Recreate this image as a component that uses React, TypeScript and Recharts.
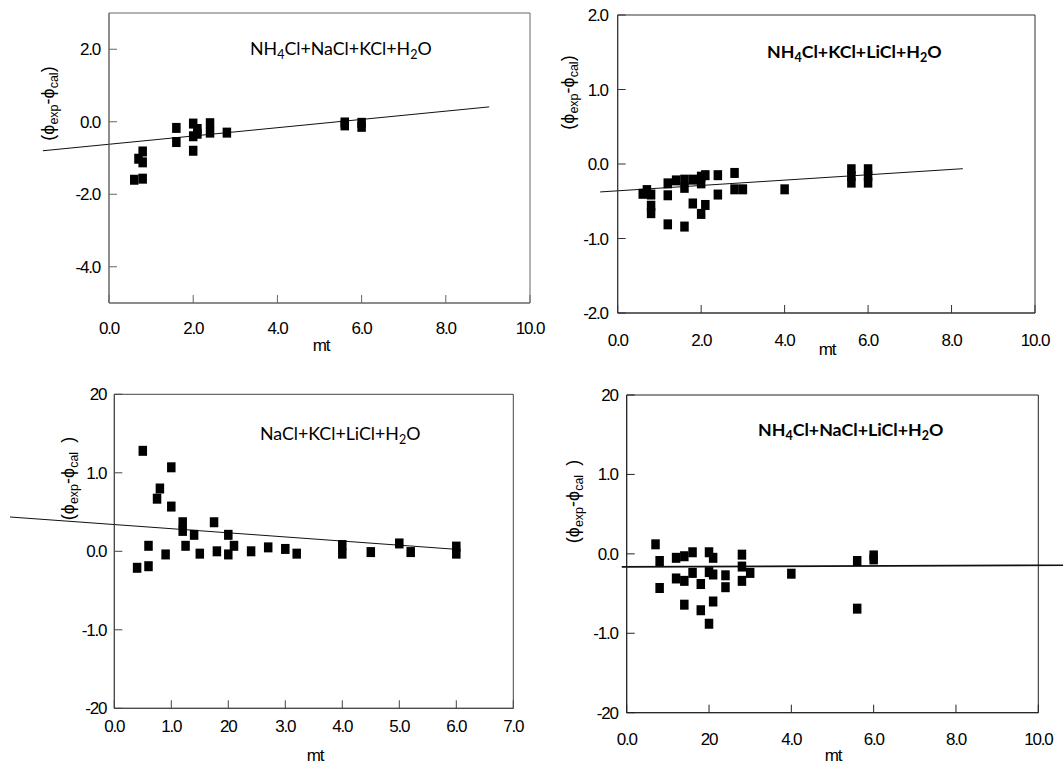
import React from 'react';
import { ScatterChart, Scatter, XAxis, YAxis, ReferenceLine, ReferenceArea } from 'recharts';

// ---- Panel 1: NH4Cl+NaCl+KCl+H2O ----
const mt1 = [0.6, 0.8, 0.7, 0.8, 0.8, 1.6, 1.6, 2.0, 2.0, 2.0, 2.1, 2.1, 2.4, 2.4, 2.8, 5.6, 5.6, 6.0, 6.0];
const dev1 = [-1.6, -1.57, -1.02, -0.82, -1.12, -0.17, -0.56, -0.05, -0.4, -0.8, -0.2, -0.33, -0.04, -0.3, -0.3, -0.02, -0.1, -0.03, -0.14];
const fit1 = [{ x: -1.57, y: -0.8 }, { x: 9.03, y: 0.41 }];
const xTicks1 = [0, 2, 4, 6, 8, 10];
const xLabels1 = ['0.0', '2.0', '4.0', '6.0', '8.0', '10.0'];
const yTicks1 = [-4, -2, 0, 2];
const yLabels1 = ['-4.0', '-2.0', '0.0', '2.0'];

// ---- Panel 2: NH4Cl+KCl+LiCl+H2O ----
const mt2 = [0.6, 0.7, 0.8, 0.8, 0.8, 1.2, 1.2, 1.2, 1.4, 1.6, 1.6, 1.6, 1.8, 1.8, 2.0, 2.0, 2.0, 2.1, 2.1, 2.4, 2.4, 2.8, 2.8, 3.0, 4.0, 5.6, 5.6, 5.6, 6.0, 6.0, 6.0];
const dev2 = [-0.4, -0.35, -0.41, -0.56, -0.66, -0.26, -0.42, -0.81, -0.22, -0.21, -0.32, -0.84, -0.21, -0.53, -0.17, -0.26, -0.67, -0.15, -0.55, -0.15, -0.41, -0.12, -0.34, -0.34, -0.34, -0.07, -0.16, -0.25, -0.07, -0.16, -0.25];
const fit2 = [{ x: -0.42, y: -0.375 }, { x: 8.27, y: -0.063 }];
const xTicks2 = [0, 2, 4, 6, 8, 10];
const xLabels2 = ['0.0', '2.0', '4.0', '6.0', '8.0', '10.0'];
const yTicks2 = [-2, -1, 0, 1, 2];
const yLabels2 = ['-2.0', '-1.0', '0.0', '1.0', '2.0'];

// ---- Panel 3: NaCl+KCl+LiCl+H2O ----
const mt3 = [0.4, 0.5, 0.6, 0.6, 0.75, 0.8, 0.9, 1.0, 1.0, 1.2, 1.2, 1.25, 1.4, 1.5, 1.75, 1.8, 2.0, 2.0, 2.1, 2.4, 2.7, 3.0, 3.2, 4.0, 4.0, 4.5, 5.0, 5.2, 6.0, 6.0];
const dev3 = [-0.21, 1.28, 0.07, -0.19, 0.67, 0.8, -0.04, 1.07, 0.57, 0.37, 0.26, 0.07, 0.21, -0.03, 0.37, 0.0, 0.21, -0.04, 0.07, 0.0, 0.05, 0.03, -0.03, 0.08, -0.03, -0.01, 0.1, -0.01, 0.06, -0.03];
const fit3 = [{ x: -1.83, y: 0.437 }, { x: 6.0, y: 0.025 }];
const xTicks3 = [0, 1, 2, 3, 4, 5, 6, 7];
const xLabels3 = ['0.0', '1.0', '20', '3.0', '4.0', '5.0', '6.0', '7.0'];
const yTicks3 = [-2, -1, 0, 1, 2];
const yLabels3 = ['-20', '-1.0', '0.0', '1.0', '20'];

// ---- Panel 4: NH4Cl+NaCl+LiCl+H2O ----
const mt4 = [0.7, 0.8, 0.8, 1.2, 1.2, 1.4, 1.4, 1.4, 1.6, 1.6, 1.8, 1.8, 2.0, 2.0, 2.0, 2.1, 2.1, 2.1, 2.4, 2.4, 2.8, 2.8, 2.8, 3.0, 4.0, 5.6, 5.6, 6.0, 6.0];
const dev4 = [0.12, -0.09, -0.43, -0.05, -0.31, -0.03, -0.34, -0.64, 0.02, -0.24, -0.38, -0.71, 0.02, -0.23, -0.88, -0.05, -0.26, -0.6, -0.27, -0.42, -0.01, -0.16, -0.34, -0.24, -0.25, -0.09, -0.69, -0.02, -0.07];
const fit4 = [{ x: -0.12, y: -0.164 }, { x: 10.6, y: -0.143 }];
const xTicks4 = [0, 2, 4, 6, 8, 10];
const xLabels4 = ['0.0', '20', '4.0', '6.0', '8.0', '10.0'];
const yTicks4 = [-2, -1, 0, 1, 2];
const yLabels4 = ['-20', '-1.0', '0.0', '1.0', '20'];

// Titles: [text, isSubscript]
const title1: [string, boolean][] = [['NH', false], ['4', true], ['Cl+NaCl+KCl+H', false], ['2', true], ['O', false]];
const title2: [string, boolean][] = [['NH', false], ['4', true], ['Cl+KCl+LiCl+H', false], ['2', true], ['O', false]];
const title3: [string, boolean][] = [['NaCl+KCl+LiCl+H', false], ['2', true], ['O', false]];
const title4: [string, boolean][] = [['NH', false], ['4', true], ['Cl+NaCl+LiCl+H', false], ['2', true], ['O', false]];

const zip = (xs: number[], ys: number[]) => xs.map((x, i) => ({ x, y: ys[i] }));

const TICK_FONT = { fontFamily: 'Liberation Sans, Arial, sans-serif', fontSize: 17, fill: '#000', letterSpacing: -1.2 };
const AXIS = '#555';

const Square = (p: any) => (
  <rect x={p.cx - 4.25} y={p.cy - 5} width={8.5} height={10} fill="#000" />
);

type PanelCfg = {
  left: number; top: number; width: number; height: number;
  plot: { l: number; t: number; r: number; b: number };
  xDomain: [number, number]; yDomain: [number, number];
  xTicks: number[]; xLabels: string[]; yTicks: number[]; yLabels: string[];
  mt: number[]; dev: number[]; fit: { x: number; y: number }[];
  fitWidth: number; xGap: number; yGap: number; axisColor: string;
};

function Panel({ c }: { c: PanelCfg }) {
  const XH = 40;
  const yw = c.plot.l - c.left;
  const margin = {
    top: c.plot.t - c.top,
    left: 0,
    right: c.left + c.width - c.plot.r,
    bottom: c.top + c.height - c.plot.b - XH,
  };
  const data = zip(c.mt, c.dev);
  return (
    <div style={{ position: 'absolute', left: c.left, top: c.top, width: c.width, height: c.height }}>
      <ScatterChart width={c.width} height={c.height} margin={margin}>
        <XAxis
          type="number" dataKey="x" domain={c.xDomain} ticks={c.xTicks} interval={0}
          tickFormatter={(v: number) => c.xLabels[c.xTicks.indexOf(v)] ?? ''}
          height={XH} tickSize={-8} tickMargin={c.xGap + 8}
          axisLine={{ stroke: c.axisColor }} tickLine={{ stroke: c.axisColor }} tick={TICK_FONT}
        />
        <YAxis
          type="number" dataKey="y" domain={c.yDomain} ticks={c.yTicks} interval={0}
          tickFormatter={(v: number) => c.yLabels[c.yTicks.indexOf(v)] ?? ''}
          width={yw} tickSize={-8} tickMargin={c.yGap + 8}
          axisLine={{ stroke: c.axisColor }} tickLine={{ stroke: c.axisColor }} tick={TICK_FONT}
        />
        <ReferenceArea x1={c.xDomain[0]} x2={c.xDomain[1]} y1={c.yDomain[0]} y2={c.yDomain[1]}
          fill="none" fillOpacity={0} stroke={c.axisColor} strokeWidth={1} />
        <ReferenceLine segment={c.fit} ifOverflow="visible" stroke="#111" strokeWidth={c.fitWidth} />
        <Scatter data={data} isAnimationActive={false} shape={Square} />
      </ScatterChart>
    </div>
  );
}

function Formula({ x, y, parts, bold }: { x: number; y: number; parts: [string, boolean][]; bold: boolean }) {
  let prevSub = false;
  return (
    <text x={x} y={y} fontFamily="Lato, 'Open Sans', sans-serif" fontSize={17.8} fontWeight={bold ? 700 : 400} fill="#000">
      {parts.map(([t, sub], i) => {
        const dy = sub && !prevSub ? 4 : !sub && prevSub ? -4 : 0;
        prevSub = sub;
        return (
          <tspan key={i} dy={dy} fontSize={sub ? 12.5 : 17.8}>{t}</tspan>
        );
      })}
    </text>
  );
}

function YLabel({ x, y, gap }: { x: number; y: number; gap: number }) {
  return (
    <text x={x} y={y} transform={`rotate(-90 ${x} ${y})`} textAnchor="middle"
      fontFamily="Liberation Sans, Arial, sans-serif" fontSize={18} fill="#000">
      <tspan>(ϕ</tspan>
      <tspan fontSize={12.5} dy={4}>exp</tspan>
      <tspan dy={-4}>-ϕ</tspan>
      <tspan fontSize={12.5} dy={4}>cal</tspan>
      <tspan dy={-4} dx={gap}>)</tspan>
    </text>
  );
}

function Mt({ x, y }: { x: number; y: number }) {
  return (
    <text x={x} y={y} textAnchor="middle" fontFamily="Liberation Sans, Arial, sans-serif" fontSize={17} letterSpacing={-1.2} fill="#000">mt</text>
  );
}

const panels: PanelCfg[] = [
  {
    left: 0, top: 0, width: 560, height: 370,
    plot: { l: 109, t: 13, r: 530, b: 303 },
    xDomain: [0, 10], yDomain: [-5, 3], xTicks: xTicks1, xLabels: xLabels1, yTicks: yTicks1, yLabels: yLabels1,
    mt: mt1, dev: dev1, fit: fit1, fitWidth: 1, xGap: 19, yGap: 9, axisColor: '#666',
  },
  {
    left: 530, top: 0, width: 533, height: 370,
    plot: { l: 617.7, t: 15, r: 1035, b: 313 },
    xDomain: [0, 10], yDomain: [-2, 2], xTicks: xTicks2, xLabels: xLabels2, yTicks: yTicks2, yLabels: yLabels2,
    mt: mt2, dev: dev2, fit: fit2, fitWidth: 1, xGap: 21, yGap: 10, axisColor: '#333',
  },
  {
    left: 0, top: 380, width: 540, height: 386,
    plot: { l: 114.3, t: 394.3, r: 513.3, b: 708.3 },
    xDomain: [0, 7], yDomain: [-2, 2], xTicks: xTicks3, xLabels: xLabels3, yTicks: yTicks3, yLabels: yLabels3,
    mt: mt3, dev: dev3, fit: fit3, fitWidth: 1, xGap: 12, yGap: 8, axisColor: '#444',
  },
  {
    left: 540, top: 380, width: 523, height: 386,
    plot: { l: 626.7, t: 395, r: 1038.3, b: 712.7 },
    xDomain: [0, 10], yDomain: [-2, 2], xTicks: xTicks4, xLabels: xLabels4, yTicks: yTicks4, yLabels: yLabels4,
    mt: mt4, dev: dev4, fit: fit4, fitWidth: 1.6, xGap: 20, yGap: 9, axisColor: '#222',
  },
];

export default function App() {
  return (
    <div style={{ position: 'absolute', left: 0, top: 0, width: 1063, height: 766, overflow: 'hidden', background: '#fff' }}>
      {panels.map((c, i) => <Panel key={i} c={c} />)}
      <svg width={1063} height={766} style={{ position: 'absolute', left: 0, top: 0, pointerEvents: 'none' }}>
        <Formula x={250} y={55} parts={title1} bold={false} />
        <Formula x={767} y={58} parts={title2} bold={true} />
        <Formula x={260} y={440} parts={title3} bold={false} />
        <Formula x={758} y={436} parts={title4} bold={true} />
        <YLabel x={54} y={103.5} gap={0} />
        <YLabel x={574} y={92.5} gap={0} />
        <YLabel x={74} y={478.5} gap={9} />
        <YLabel x={579} y={501.5} gap={9} />
        <Mt x={321} y={351} />
        <Mt x={827} y={355} />
        <Mt x={315} y={761} />
        <Mt x={833} y={761} />
      </svg>
    </div>
  );
}
